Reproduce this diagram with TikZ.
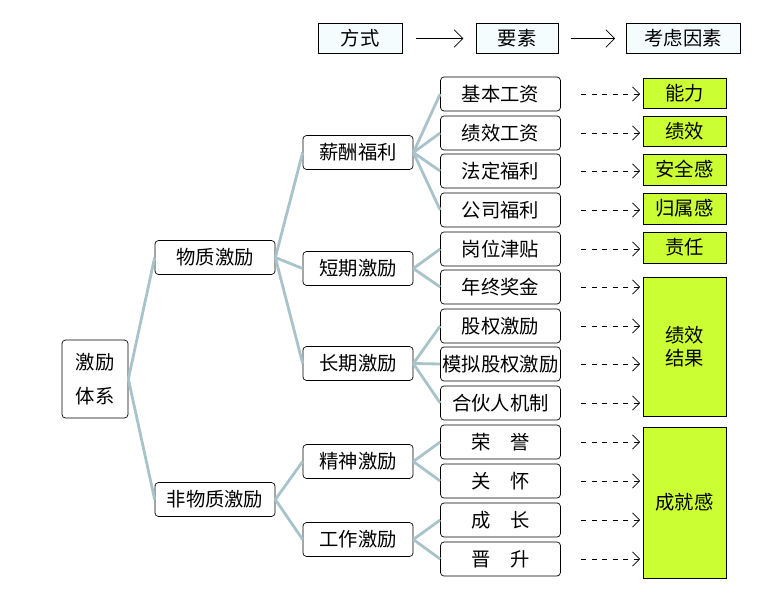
\documentclass[tikz,border=0pt]{standalone}
\usepackage{fontspec}
\setmainfont{Noto Sans CJK SC}
\usetikzlibrary{arrows.meta}
\definecolor{linkgray}{HTML}{A8C4CA}
\definecolor{lime}{HTML}{CCFF33}
\tikzset{
  box/.style={draw,rounded corners=2pt,minimum width=2.4cm,minimum height=0.68cm,font=\fontsize{11}{13}\selectfont,inner sep=1pt},
  headbox/.style={draw,fill=cyan!4,minimum height=0.58cm,font=\fontsize{11}{13}\selectfont},
  factor/.style={draw,fill=lime,minimum width=1.66cm,font=\fontsize{11}{13}\selectfont,inner sep=1pt},
  link/.style={linkgray,line width=1.6pt},
  hint/.style={dashed,-{Straight Barb[length=4pt]}}
}
\begin{document}
\begin{tikzpicture}[x=0.02cm,y=-0.02cm]
  \useasboundingbox (0,0) rectangle (764,591);
  % header
  \node[headbox,minimum width=1.68cm] (way) at (360,38.5) {方式};
  \node[headbox,minimum width=1.64cm] (elem) at (517,38.5) {要素};
  \node[headbox,minimum width=2.28cm] (fact) at (683,38.5) {考虑因素};
  \draw[-{Straight Barb[length=5pt]},shorten <=8pt,shorten >=7pt] (way) -- (elem);
  \draw[-{Straight Barb[length=5pt]},shorten <=7pt,shorten >=6pt] (elem) -- (fact);

  % levels
  \node[box,minimum width=1.32cm,minimum height=1.56cm,align=center] (root) at (95,379) {激励\\[6pt]体系};
  \node[box] (mat) at (215,257.5) {物质激励};
  \node[box] (nonmat) at (215,499.5) {非物质激励};
  \node[box,minimum width=2.2cm] (pay) at (358,152.5) {薪酬福利};
  \node[box,minimum width=2.2cm] (short) at (358,268.5) {短期激励};
  \node[box,minimum width=2.2cm] (long) at (358,363.5) {长期激励};
  \node[box,minimum width=2.2cm] (spirit) at (358,461.5) {精神激励};
  \node[box,minimum width=2.2cm] (work) at (358,539.5) {工作激励};
  \draw[link] (root.east) -- (mat.west);
  \draw[link] (root.east) -- (nonmat.west);
  \foreach \c in {pay,short,long} \draw[link] (mat.east) -- (\c.west);
  \foreach \c in {spirit,work} \draw[link] (nonmat.east) -- (\c.west);

  % leaves
  \foreach \n/\y/\t/\p in {l1/94/基本工资/pay, l2/133/绩效工资/pay, l3/171/法定福利/pay, l4/210/公司福利/pay,
      l5/249/岗位津贴/short, l6/287/年终奖金/short,
      l7/326/股权激励/long, l8/364/模拟股权激励/long, l9/403/合伙人机制/long,
      l10/442/荣\quad 誉/spirit, l11/481/关\quad 怀/spirit,
      l12/520/成\quad 长/work, l13/559/晋\quad 升/work} {
    \node[box] (\n) at (500.5,\y) {\t};
    \draw[link] (\p.east) -- (\n.west);
    \coordinate (\n a) at (581,\y);
    \coordinate (\n b) at (640,\y);
    \draw[hint] (\n a) -- (\n b);
  }

  % factors
  \node[factor,minimum height=0.6cm] (f1) at (684.5,93) {能力};
  \node[factor,minimum height=0.6cm] (f2) at (684.5,131) {绩效};
  \node[factor,minimum height=0.62cm] (f3) at (684.5,169.5) {安全感};
  \node[factor,minimum height=0.62cm] (f4) at (684.5,208.5) {归属感};
  \node[factor,minimum height=0.62cm] (f5) at (684.5,247.5) {责任};
  \node[factor,minimum height=2.78cm,align=center] (f6) at (684.5,346.5) {绩效\\结果};
  \node[factor,minimum height=3.02cm] (f7) at (684.5,502.5) {成就感};
\end{tikzpicture}
\end{document}
